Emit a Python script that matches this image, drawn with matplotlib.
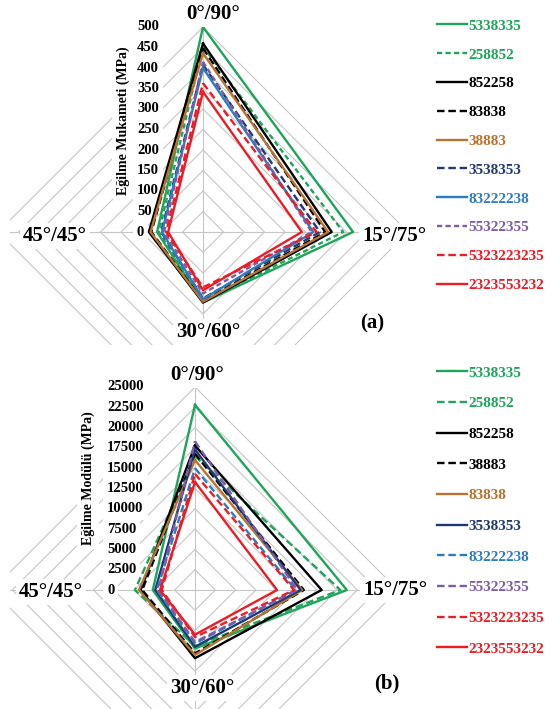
import numpy as np
import matplotlib.pyplot as plt

plt.rcParams['font.family'] = ['Liberation Serif', 'DejaVu Serif']
plt.rcParams['font.weight'] = 'bold'

categories = ["0°/90°", "15°/75°", "30°/60°", "45°/45°"]

# (a) flexural strength, MPa
labels_a = ["5338335", "258852", "852258", "83838", "38883",
            "3538353", "83222238", "55322355", "5323223235", "2323553232"]
str_0_90 = [500, 452, 460, 448, 436, 408, 400, 415, 363, 342]
str_15_75 = [366, 342, 314, 298, 305, 285, 269, 265, 277, 241]
str_30_60 = [172, 170, 172, 168, 170, 162, 164, 150, 135, 142]
str_45_45 = [112, 108, 132, 126, 128, 102, 100, 95, 90, 85]
ticks_a = [0, 50, 100, 150, 200, 250, 300, 350, 400, 450, 500]

# (b) flexural modulus, MPa
labels_b = ["5338335", "258852", "852258", "38883", "83838",
            "3538353", "83222238", "55322355", "5323223235", "2323553232"]
mod_0_90 = [22800, 16500, 17800, 16800, 16000, 17300, 15000, 18300, 14300, 13300]
mod_15_75 = [18700, 17900, 15600, 13400, 13200, 13000, 12400, 12600, 12200, 10100]
mod_30_60 = [7200, 6900, 8400, 7800, 8000, 7000, 6600, 6400, 5800, 5500]
mod_45_45 = [5200, 7400, 6700, 6500, 6900, 4900, 4700, 4500, 4100, 4300]
ticks_b = [0, 2500, 5000, 7500, 10000, 12500, 15000, 17500, 20000, 22500, 25000]

GREEN, BLACK, BROWN = "#1ea55a", "#000000", "#b8732e"
NAVY, BLUE, PURPLE, RED = "#1f3a72", "#2e7cc0", "#7c5caa", "#ec1c24"
SOLID, DASH, DOTDASH = "-", (0, (3.2, 1.6)), (0, (2.2, 1.4))

colors_a = [GREEN, GREEN, BLACK, BLACK, BROWN, NAVY, BLUE, PURPLE, RED, RED]
styles_a = [SOLID, DOTDASH, SOLID, DASH, SOLID, DASH, SOLID, DOTDASH, DASH, SOLID]
colors_b = [GREEN, GREEN, BLACK, BLACK, BROWN, NAVY, BLUE, PURPLE, RED, RED]
styles_b = [SOLID, DASH, SOLID, DASH, SOLID, SOLID, DASH, DASH, DASH, SOLID]

W, H = 555, 709
fig = plt.figure(figsize=(W / 100, H / 100), dpi=100)
fig.patch.set_facecolor("white")

def fx(x):
    return x / W

def fy(y):
    return 1 - y / H

theta = np.deg2rad([0, 90, 180, 270, 0])
dx, dy = np.sin(theta), np.cos(theta)
white = dict(facecolor="white", edgecolor="none", pad=3)


def radar(box, center, rmax_px, ticks, series, labels, colors, styles,
          tick_x, title, title_pos, cat_pos, tag, tag_pos, leg_top, leg_space):
    x0, y0, x1, y1 = box
    cx, cy = center
    k = rmax_px / ticks[-1]
    ax = fig.add_axes([fx(x0), fy(y1), (x1 - x0) / W, (y1 - y0) / H])
    ax.set_xlim((x0 - cx) / k, (x1 - cx) / k)
    ax.set_ylim(-(y1 - cy) / k, (cy - y0) / k)
    ax.axis("off")

    for r in ticks[1:]:
        ax.plot(r * dx, r * dy, color="#c6c6c6", lw=0.8, zorder=1)
    for a, b in zip(dx[:4], dy[:4]):
        ax.plot([0, a * ticks[-1]], [0, b * ticks[-1]], color="#c6c6c6", lw=0.8, zorder=1)

    for t in ticks:
        ax.text((tick_x - cx) / k, t, str(t), ha="left", va="center",
                fontsize=10.5, bbox=white, zorder=2)

    lines = []
    for vals, lab, c, st in zip(series, labels, colors, styles):
        v = np.append(vals, vals[0])
        ln, = ax.plot(v * dx, v * dy, color=c, lw=1.7, ls=st, label=lab, zorder=3)
        lines.append(ln)

    fig.text(fx(title_pos[0]), fy(title_pos[1]), title, rotation=90,
             ha="center", va="center", fontsize=10, bbox=white)
    for cat, (px, py) in zip(categories, cat_pos):
        fig.text(fx(px), fy(py), cat, ha="center", va="center", fontsize=15,
                 bbox=dict(facecolor="white", edgecolor="none", pad=2))
    fig.text(fx(tag_pos[0]), fy(tag_pos[1]), tag, ha="center", va="center", fontsize=15)

    fig.legend(lines, labels, loc="upper left", bbox_to_anchor=(fx(437), fy(leg_top)),
               frameon=False, fontsize=11, handlelength=1.96, handletextpad=0.1,
               labelspacing=leg_space, borderpad=0, borderaxespad=0,
               labelcolor="linecolor")


series_a = np.column_stack([str_0_90, str_15_75, str_30_60, str_45_45])
series_b = np.column_stack([mod_0_90, mod_15_75, mod_30_60, mod_45_45])

radar((10, 0, 440, 345), (203, 232), 205, ticks_a, series_a, labels_a, colors_a, styles_a,
      137, "Eğilme Mukameti (MPa)", (123, 121),
      [(213, 14), (394, 236), (208, 332), (55, 236)], "(a)", (372, 323), 19, 0.99)

radar((10, 355, 440, 709), (195, 590), 203, ticks_b, series_b, labels_b, colors_b, styles_b,
      107, "Eğilme Modülü (MPa)", (88, 478),
      [(197, 375), (395, 590), (202, 688), (51, 592)], "(b)", (387, 683), 366, 1.11)

fig.savefig("out.png", dpi=100)
